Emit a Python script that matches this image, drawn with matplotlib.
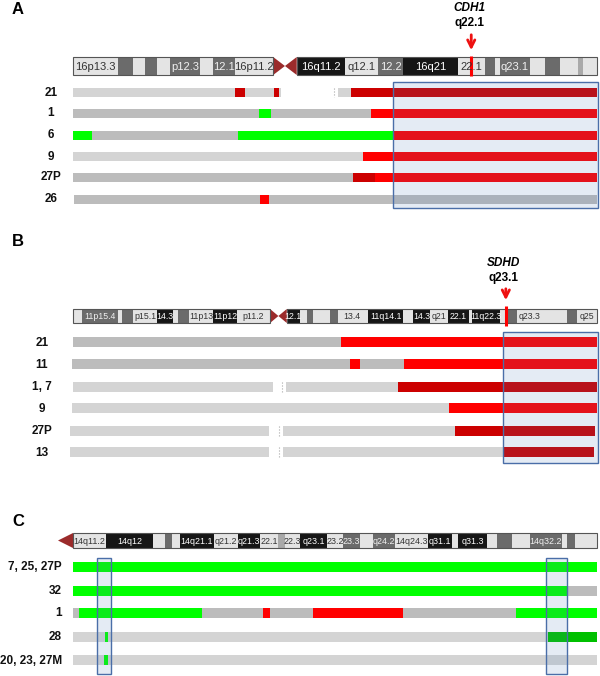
import matplotlib
matplotlib.use("Agg")
import matplotlib.pyplot as plt
from matplotlib.patches import Rectangle, Polygon

# ---- ideogram data (band edges in % of chromosome length) ----
chr16_edges = [0, 8.6, 11.5, 13.7, 16.0, 18.5, 24.2, 26.7, 30.9, 38.2, 42.7, 51.9, 58.2,
               63.0, 73.5, 78.6, 80.5, 81.5, 87.2, 90.1, 92.9, 96.4, 97.3, 100]
chr16_stain = ['l', 'd', 'l', 'd', 'l', 'd', 'l', 'd', 'l', 'cen', 'k', 'l', 'd', 'k', 'l',
               'd', 'l', 'd', 'l', 'd', 'l', 'm', 'l']
chr16_names = ['16p13.3', '', '', '', '', 'p12.3', '', '12.1', '16p11.2', '', '16q11.2',
               'q12.1', '12.2', '16q21', '22.1', '', '', 'q23.1', '', '', '', '', '']

chr11_edges = [0, 1.7, 8.6, 9.4, 11.5, 16.0, 19.1, 20.0, 22.1, 26.7, 31.3, 37.6, 40.8, 43.3,
               44.7, 45.8, 49.0, 50.6, 51.9, 54.4, 56.3, 63.0, 64.9, 68.1, 71.5, 75.6, 76.1,
               81.5, 82.4, 84.7, 89.7, 94.3, 96.2, 100]
chr11_stain = ['l', 'd', 'l', 'd', 'l', 'k', 'l', 'd', 'l', 'k', 'l', 'cen', 'k', 'l', 'd',
               'l', 'd', 'l', 'l', 'l', 'k', 'l', 'k', 'l', 'k', 'l', 'k', 'l', 'd', 'l',
               'l', 'd', 'l']
chr11_names = ['', '11p15.4', '', '', 'p15.1', '14.3', '', '', '11p13', '11p12', 'p11.2', '',
               '12.1', '', '', '', '', '', '13.4', '', '11q14.1', '', '14.3', 'q21', '22.1',
               '', '11q22.3', '', '', 'q23.3', '', '', 'q25']

chr14_edges = [0, 6.3, 15.3, 17.6, 18.9, 20.4, 26.9, 31.5, 35.7, 39.1, 40.5, 43.3, 48.5,
               51.5, 54.8, 57.3, 61.5, 67.7, 72.3, 73.5, 79.0, 80.9, 83.8, 87.2, 93.3,
               94.3, 95.8, 100]
chr14_stain = ['l', 'k', 'l', 'd', 'l', 'k', 'l', 'k', 'l', 'm', 'l', 'k', 'l', 'd', 'l',
               'd', 'l', 'k', 'l', 'k', 'l', 'd', 'l', 'd', 'l', 'd', 'l']
chr14_names = ['14q11.2', '14q12', '', '', '', '14q21.1', 'q21.2', 'q21.3', '22.1', '',
               '22.3', 'q23.1', '23.2', '23.3', '', 'q24.2', '14q24.3', 'q31.1', '', 'q31.3',
               '', '', '', '14q32.2', '', '', '']

# ---- sample rows: (start %, end %, state) ----
a_labels = ['21', '1', '6', '9', '27P', '26']
a_rows = [
    [(0, 39.7, 'lg'), (31.0, 32.8, 'dr'), (38.4, 39.3, 'dr'), (50.6, 53.1, 'lg'), (53.1, 100, 'dr')],
    [(0, 100, 'dg'), (35.5, 37.8, 'g'), (56.9, 100, 'r')],
    [(0, 3.6, 'g'), (3.6, 31.5, 'dg'), (31.5, 61.1, 'g'), (61.1, 100, 'r')],
    [(0, 55.3, 'lg'), (55.3, 100, 'r')],
    [(0, 53.4, 'dg'), (53.4, 57.6, 'dr'), (57.6, 100, 'r')],
    [(0.2, 100, 'dg'), (35.7, 37.4, 'r')],
]
a_gaps = [49.8, None, None, None, None, None]

b_labels = ['21', '11', '1, 7', '9', '27P', '13']
b_rows = [
    [(0, 100, 'dg'), (51.1, 100, 'r')],
    [(-0.2, 100, 'dg'), (52.9, 54.8, 'r'), (63.2, 100, 'r')],
    [(0, 38.2, 'lg'), (40.6, 100, 'lg'), (62.0, 100, 'dr')],
    [(-0.2, 100, 'lg'), (71.8, 100, 'r')],
    [(-0.6, 37.4, 'lg'), (40.1, 99.6, 'lg'), (72.9, 99.6, 'dr')],
    [(-0.6, 37.4, 'lg'), (40.1, 99.4, 'lg'), (82.1, 99.4, 'dr')],
]
b_gaps = [None, None, 39.9, None, 39.3, 39.3]

c_labels = ['7, 25, 27P', '32', '1', '28', '20, 23, 27M']
c_rows = [
    [(0, 100, 'g')],
    [(0, 94.3, 'g'), (94.3, 100, 'dg')],
    [(0, 100, 'dg'), (1.1, 24.6, 'g'), (36.3, 37.6, 'r'), (45.8, 62.9, 'r'), (84.5, 100, 'g')],
    [(0, 100, 'lg'), (6.1, 6.7, 'g'), (90.6, 100, 'gd')],
    [(0, 100, 'lg'), (5.9, 6.7, 'g')],
]

# highlighted regions (% of chromosome)
a_boxes = [(61.1, 100.2)]
b_boxes = [(82.1, 100.2)]
c_boxes = [(4.6, 7.3), (90.3, 94.3)]

a_gene, a_band, a_mark = 'CDH1', 'q22.1', 76.0
b_gene, b_band, b_mark = 'SDHD', 'q23.1', 82.6

# ---- styles ----
stain_col = {'l': '#e4e4e4', 'd': '#6b6b6b', 'k': '#161616', 'm': '#a9a9a9'}
stain_txt = {'l': '#333333', 'd': '#f0f0f0', 'k': '#ffffff', 'm': '#333333'}
state_col = {'lg': '#d4d4d4', 'dg': '#bcbcbc', 'r': '#ff0000', 'dr': '#cc0000',
             'g': '#00ff00', 'gd': '#00c000'}
CEN = '#9b2b2b'
X0, X1 = 73, 597
BOLD = ['Liberation Sans', 'DejaVu Sans']
NARROW = ['Liberation Sans Narrow', 'Liberation Sans', 'DejaVu Sans']

fig = plt.figure(figsize=(6, 6.76), dpi=100)
ax = fig.add_axes([0, 0, 1, 1])
ax.set_xlim(0, 600)
ax.set_ylim(676, 0)
ax.axis('off')


def px(p):
    return X0 + p * (X1 - X0) / 100.0


def ideogram(edges, stains, names, ytop, h, fs):
    for i, st in enumerate(stains):
        a, b = px(edges[i]), px(edges[i + 1])
        if st == 'cen':
            m = (a + b) / 2
            ax.add_patch(Polygon([(a, ytop), (m, ytop + h / 2), (a, ytop + h)], color=CEN, lw=0))
            ax.add_patch(Polygon([(b, ytop), (m, ytop + h / 2), (b, ytop + h)], color=CEN, lw=0))
            continue
        ax.add_patch(Rectangle((a, ytop), b - a, h, facecolor=stain_col[st], edgecolor='none'))
        if names[i]:
            ax.text((a + b) / 2, ytop + h / 2 + 0.5, names[i], ha='center', va='center',
                    fontsize=fs, color=stain_txt[st], family=NARROW)
    # outline each arm
    cen = [i for i, s in enumerate(stains) if s == 'cen']
    if cen:
        i = cen[0]
        spans = [(edges[0], edges[i]), (edges[i + 1], edges[-1])]
    else:
        spans = [(edges[0], edges[-1])]
    for s, e in spans:
        ax.add_patch(Rectangle((px(s), ytop), px(e) - px(s), h, fill=False,
                               edgecolor='#555555', lw=0.8))


def rows(labels, data, ys, h, lab_x, ha, gaps=None):
    for k, (lab, segs) in enumerate(zip(labels, data)):
        y = ys[k]
        for s, e, st in segs:
            ax.add_patch(Rectangle((px(s), y - h / 2), px(e) - px(s), h,
                                   facecolor=state_col[st], edgecolor='none'))
        if gaps and gaps[k] is not None:
            ax.plot([px(gaps[k])] * 2, [y - h / 2, y + h / 2], ls=':', color='#aaaaaa', lw=0.8)
        ax.text(lab_x, y + 0.5, lab, ha=ha, va='center', fontsize=8.5, fontweight='bold',
                family=BOLD, color='#111111')


def boxes(spans, ytop, ybot):
    for s, e in spans:
        ax.add_patch(Rectangle((px(s), ytop), px(e) - px(s), ybot - ytop,
                               facecolor='#4a7ebb', alpha=0.15, edgecolor='none'))
        ax.add_patch(Rectangle((px(s), ytop), px(e) - px(s), ybot - ytop,
                               fill=False, edgecolor='#4a6ea8', lw=1))


def marker(p, gene, band, y_gene, y_arrow0, y_arrow1, y_line0, y_line1):
    x = px(p)
    ax.text(x - 2, y_gene, gene, ha='center', va='center', fontsize=8.5, fontweight='bold',
            style='italic', family=BOLD)
    ax.text(x - 2, y_gene + 15, band, ha='center', va='center', fontsize=8.5,
            fontweight='bold', family=BOLD)
    ax.annotate('', xy=(x, y_arrow1), xytext=(x, y_arrow0),
                arrowprops=dict(arrowstyle='->', color='#ee1111', lw=2, mutation_scale=13))
    ax.plot([x, x], [y_line0, y_line1], color='#ff0000', lw=2.2, solid_capstyle='butt')


# ---- panel A ----
ax.text(18, 10, 'A', ha='center', va='center', fontsize=12, fontweight='bold', family=BOLD)
marker(a_mark, a_gene, a_band, 8, 32, 53, 56, 76)
ideogram(chr16_edges, chr16_stain, chr16_names, 57, 18, 8.0)
a_y = [92, 113, 135, 156, 177, 199]
rows(a_labels, a_rows, a_y, 9, 51, 'center', a_gaps)
boxes(a_boxes, 82, 208)

# ---- panel B ----
ax.text(18, 241, 'B', ha='center', va='center', fontsize=12, fontweight='bold', family=BOLD)
marker(b_mark, b_gene, b_band, 263, 286, 303, 306, 326)
ideogram(chr11_edges, chr11_stain, chr11_names, 309, 14, 6.3)
b_y = [342, 364, 387, 408, 431, 452]
rows(b_labels, b_rows, b_y, 10, 42, 'center', b_gaps)
boxes(b_boxes, 332, 463)

# ---- panel C ----
ax.text(18, 522, 'C', ha='center', va='center', fontsize=12, fontweight='bold', family=BOLD)
ax.add_patch(Polygon([(58, 540.5), (X0, 533), (X0, 548)], color=CEN, lw=0))
ideogram(chr14_edges, chr14_stain, chr14_names, 533, 15, 6.4)
c_y = [567, 591, 613, 637, 660]
rows(c_labels, c_rows, c_y, 10, 62, 'right')
boxes(c_boxes, 558, 674)

fig.savefig('out.png', dpi=100)
